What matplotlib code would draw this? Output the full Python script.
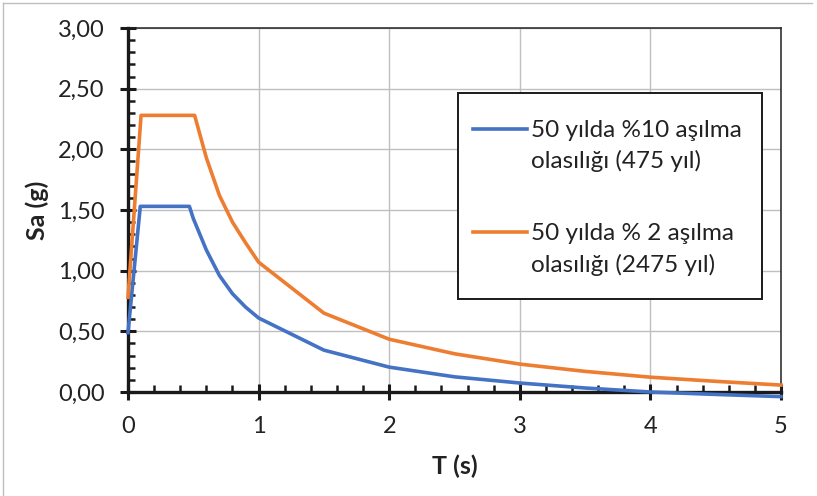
import matplotlib
matplotlib.use("Agg")
import matplotlib.pyplot as plt
from matplotlib.lines import Line2D
from matplotlib.patches import Rectangle
from matplotlib.ticker import MultipleLocator, FuncFormatter

plt.rcParams['font.family'] = ['Lato', 'DejaVu Sans']

# Period values (s)
T_475 = [0.0, 0.094, 0.47, 0.5, 0.6, 0.7, 0.8, 0.9, 1.0, 1.5, 2.0, 2.5, 3.0, 3.5, 4.0, 4.5, 5.0]
T_2475 = [0.0, 0.1, 0.51, 0.6, 0.7, 0.8, 0.9, 1.0, 1.5, 2.0, 2.5, 3.0, 3.5, 4.0, 4.5, 5.0]

# Spectral acceleration (g)
sa_475 = [0.49, 1.53, 1.53, 1.43, 1.17, 0.96, 0.81, 0.70, 0.61, 0.345, 0.205, 0.125,
          0.074, 0.033, 0.0, -0.02, -0.038]
sa_2475 = [0.78, 2.28, 2.28, 1.93, 1.62, 1.40, 1.23, 1.07, 0.65, 0.435, 0.315, 0.23,
           0.17, 0.122, 0.088, 0.057]

labels = [["50 yılda %10 aşılma", "olasılığı (475 yıl)"],
          ["50 yılda % 2 aşılma", "olasılığı (2475 yıl)"]]
colors = ["#4472C4", "#ED7D31"]

W, H = 817, 496
fig = plt.figure(figsize=(W / 100, H / 100), dpi=100)
ax = fig.add_axes([128 / W, 1 - 392 / H, 653 / W, 364 / H])

ax.plot(T_475, sa_475, color=colors[0], lw=2.6, clip_on=False, zorder=4,
        solid_joinstyle='round')
ax.plot(T_2475, sa_2475, color=colors[1], lw=2.6, clip_on=False, zorder=4,
        solid_joinstyle='round')

ax.set_xlim(0, 5)
ax.set_ylim(0, 3)
ax.xaxis.set_major_locator(MultipleLocator(1))
ax.xaxis.set_minor_locator(MultipleLocator(0.2))
ax.yaxis.set_major_locator(MultipleLocator(0.5))
ax.yaxis.set_minor_locator(MultipleLocator(0.1))
ax.yaxis.set_major_formatter(FuncFormatter(lambda v, p: f"{v:.2f}".replace('.', ',')))
ax.xaxis.set_major_formatter(FuncFormatter(lambda v, p: f"{v:g}"))

ax.grid(True, which='major', color='#BFBFBF', lw=1.0, zorder=0)
ax.set_axisbelow(True)

for side in ('left', 'bottom'):
    ax.spines[side].set_linewidth(2.4)
    ax.spines[side].set_color('#1a1a1a')
    ax.spines[side].set_zorder(3)
for side in ('top', 'right'):
    ax.spines[side].set_linewidth(1.1)
    ax.spines[side].set_color('#222222')

ax.tick_params(which='major', direction='inout', length=12, width=2.2,
               color='#1a1a1a', labelsize=17, labelcolor='#222222')
ax.tick_params(axis='y', which='major', pad=11)
ax.tick_params(axis='x', which='major', pad=11)
ax.tick_params(which='minor', direction='in', length=5, width=1.8, color='#1a1a1a')

ax.set_ylabel("Sa (g)", fontsize=18, fontweight='bold', color='#222222', labelpad=6)
ax.set_xlabel("T (s)", fontsize=18, fontweight='bold', color='#222222', labelpad=13)

# Legend box drawn in axes coordinates
ax.add_patch(Rectangle((0.5054, 0.2555), 0.9715 - 0.5054, 0.8214 - 0.2555,
                       transform=ax.transAxes, facecolor='white',
                       edgecolor='#1a1a1a', lw=1.4, zorder=6, clip_on=False))
handle_y = [0.7225, 0.4396]
text_y = [[0.7005, 0.6154], [0.4176, 0.3297]]
for c, hy, ty, lab in zip(colors, handle_y, text_y, labels):
    ax.add_line(Line2D([0.528, 0.611], [hy, hy], transform=ax.transAxes,
                       color=c, lw=2.6, zorder=7, clip_on=False))
    for y, s in zip(ty, lab):
        ax.text(0.617, y, s, transform=ax.transAxes, fontsize=17.5,
                color='#222222', va='baseline', ha='left', zorder=7)

# Light outer frame of the chart area
fig.add_artist(Line2D([3 / W, 3 / W], [0, 1 - 3 / H], color='#BFBFBF', lw=1.0))
fig.add_artist(Line2D([3 / W, 812 / W], [1 - 3 / H, 1 - 3 / H], color='#BFBFBF', lw=1.0))

fig.savefig("out.png", dpi=100)
